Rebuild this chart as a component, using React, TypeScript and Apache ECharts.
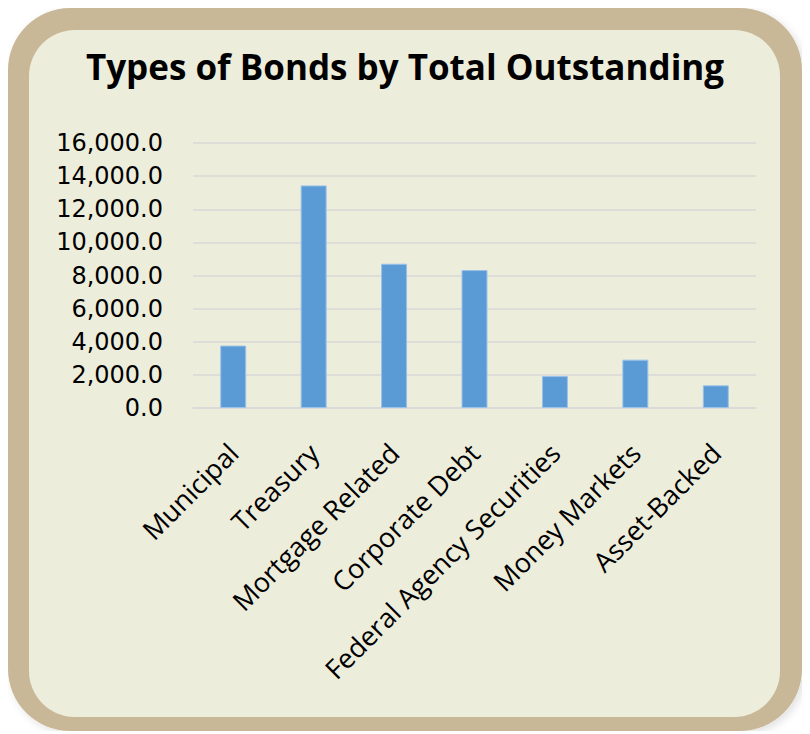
import React, { useEffect, useRef } from "react";
import * as echarts from "echarts";

const categories = [
  "Municipal",
  "Treasury",
  "Mortgage Related",
  "Corporate Debt",
  "Federal Agency Securities",
  "Money Markets",
  "Asset-Backed",
];
const totals = [3770, 13440, 8710, 8330, 1930, 2920, 1370];
const chartTitle = "Types of Bonds by Total Outstanding";

const W = 794;
const H = 723;

export default function App() {
  const ref = useRef<HTMLDivElement>(null);
  useEffect(() => {
    if (!ref.current) return;
    const chart = echarts.init(ref.current, null, { renderer: "svg" });
    chart.setOption({
      animation: false,
      backgroundColor: "transparent",
      graphic: [
        {
          type: "rect",
          z: -10,
          shape: { x: 0, y: 0, width: W, height: H, r: 62 },
          style: {
            fill: "#C9B898",
            shadowBlur: 8,
            shadowOffsetX: 3,
            shadowOffsetY: 3,
            shadowColor: "rgba(0,0,0,0.12)",
          },
        },
        {
          type: "rect",
          z: -9,
          shape: { x: 21, y: 22, width: W - 43, height: H - 36, r: 46 },
          style: { fill: "#EDEDDC" },
        },
      ],
      title: {
        text: chartTitle,
        left: "center",
        top: 36,
        textStyle: {
          fontFamily: "Open Sans",
          fontWeight: "bold",
          fontSize: 35,
          color: "#000",
        },
      },
      grid: { left: 185, right: 46, top: 135, bottom: 323, containLabel: false },
      xAxis: {
        type: "category",
        data: categories,
        axisLine: { show: true, lineStyle: { color: "#D9D9D9", width: 1.5 } },
        axisTick: { show: false },
        axisLabel: {
          rotate: 45,
          interval: 0,
          margin: 40,
          fontFamily: "Open Sans",
          fontSize: 27,
          color: "#000",
        },
      },
      yAxis: {
        type: "value",
        min: 0,
        max: 16000,
        interval: 2000,
        axisLine: { show: false },
        axisTick: { show: false },
        splitLine: { lineStyle: { color: "#D9D9D9", width: 1.5 } },
        axisLabel: {
          margin: 30,
          fontFamily: "DejaVu Sans",
          fontSize: 24,
          lineHeight: 26,
          color: "#000",
          formatter: (v: number) =>
            v.toLocaleString("en-US", { minimumFractionDigits: 1, maximumFractionDigits: 1 }),
        },
      },
      series: [
        {
          type: "bar",
          data: totals,
          barWidth: 26,
          itemStyle: { color: "#5B9BD5", borderColor: "#9CC2E8", borderWidth: 1 },
        },
      ],
    });
    return () => chart.dispose();
  }, []);
  return <div ref={ref} style={{ width: W, height: H }} />;
}
